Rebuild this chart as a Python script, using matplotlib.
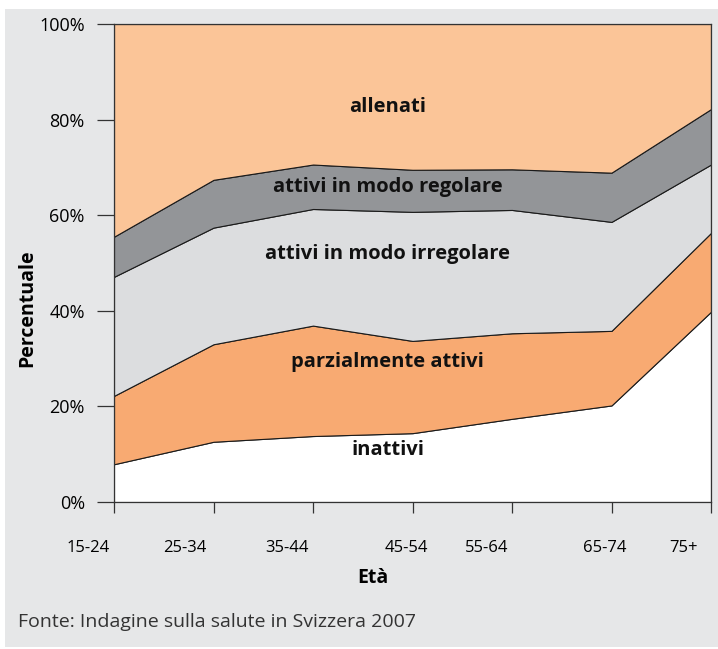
import matplotlib
matplotlib.use('Agg')
import matplotlib.pyplot as plt
from matplotlib.patches import Rectangle

plt.rcParams['font.family'] = ['Open Sans', 'DejaVu Sans']

# dati (percentuali per classe di età)
eta = ['15-24', '25-34', '35-44', '45-54', '55-64', '65-74', '75+']
inattivi = [7.9, 12.6, 13.8, 14.4, 17.4, 20.2, 39.8]
parzialmente = [14.3, 20.4, 23.1, 19.3, 17.9, 15.6, 16.5]
irregolare = [24.9, 24.4, 24.4, 27.0, 25.8, 22.8, 14.3]
regolare = [8.4, 10.0, 9.3, 8.8, 8.5, 10.3, 11.6]
allenati = [100 - a - b - c - d for a, b, c, d in zip(inattivi, parzialmente, irregolare, regolare)]

nomi = ['inattivi', 'parzialmente attivi', 'attivi in modo irregolare',
        'attivi in modo regolare', 'allenati']
colori = ['#FFFFFF', '#F8AA72', '#DCDDDF', '#939598', '#FBC598']

bgColor = '#E6E7E8'

fig = plt.figure(figsize=(7.18, 6.49), dpi=100)
fig.patches.append(Rectangle((5 / 718, 2 / 649), 1 - 5 / 718, 638 / 649,
                             transform=fig.transFigure, facecolor=bgColor,
                             edgecolor='none', zorder=-10))

ax = fig.add_axes([114 / 718, 1 - 502 / 649, 597 / 718, 478 / 649])
ax.set_zorder(1)
x = list(range(len(eta)))
ax.stackplot(x, inattivi, parzialmente, irregolare, regolare, allenati,
             colors=colori, edgecolor='#1a1a1a', linewidth=0.8)

ax.set_xlim(0, len(eta) - 1)
ax.set_ylim(0, 100)
ax.set_yticks([0, 20, 40, 60, 80, 100])
ax.set_yticklabels(['0%', '20%', '40%', '60%', '80%', '100%'], fontsize=13)
ax.set_xticks(x)
ax.set_xticklabels([])
ax.tick_params(axis='y', length=12, width=0.9, pad=9, color='#333333')
ax.tick_params(axis='x', length=8, width=0.9, color='#333333')
for s in ax.spines.values():
    s.set_color('#333333')
    s.set_linewidth(0.9)

# etichette età (posizioni come nell'originale)
pos_etichette = [-0.26, 0.71, 1.74, 2.94, 3.75, 4.93, 5.72]
for px, lab in zip(pos_etichette, eta):
    ax.text(px, -9.6, lab, ha='center', va='center', fontsize=12, clip_on=False)

# nomi delle aree
pos_nomi = [10.9, 29.3, 51.9, 65.9, 82.6]
for py, nome in zip(pos_nomi, nomi):
    ax.text(2.75, py, nome, ha='center', va='center', fontsize=14.5,
            fontweight='bold', color='#111111')

fig.text(373 / 718, 1 - 578 / 649, 'Età', ha='center', va='center',
         fontsize=14, fontweight='bold')
fig.text(27 / 718, 1 - 308 / 649, 'Percentuale', ha='center', va='center',
         rotation=90, fontsize=14, fontweight='bold')
fig.text(18 / 718, 1 - 622 / 649, 'Fonte: Indagine sulla salute in Svizzera 2007',
         ha='left', va='center', fontsize=14, color='#333333')

fig.savefig('out.png', dpi=100, facecolor='white')
